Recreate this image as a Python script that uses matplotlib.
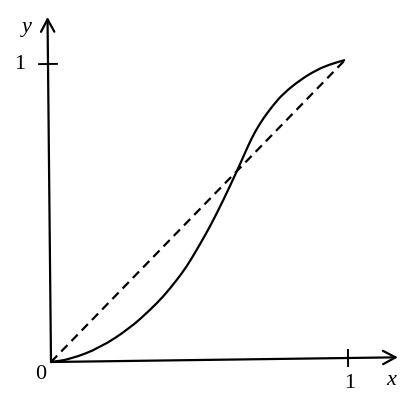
import matplotlib
matplotlib.use("Agg")
import matplotlib.pyplot as plt
from matplotlib.transforms import Affine2D
from matplotlib.path import Path
from matplotlib.patches import PathPatch
import numpy as np

# Curve values (in unit coordinates)
curve_x = [0.0, 0.064, 0.165, 0.267, 0.335, 0.380, 0.426, 0.460, 0.494, 0.540,
           0.586, 0.626, 0.649, 0.672, 0.695, 0.723, 0.757, 0.791, 0.848,
           0.904, 0.949, 1.0]
curve_y = [0.0, 0.008, 0.045, 0.110, 0.170, 0.214, 0.269, 0.314, 0.369, 0.447,
           0.536, 0.619, 0.668, 0.719, 0.764, 0.808, 0.852, 0.890, 0.935,
           0.968, 0.986, 1.0]
diag_x = [0.0, 1.0]
diag_y = [0.0, 1.0]
x_ticks = [1]
y_ticks = [1]
x_tick_labels = ["1"]
y_tick_labels = ["1"]
origin_label = "0"

W, H = 416, 415
fig = plt.figure(figsize=(W / 100, H / 100), dpi=100)
ax = fig.add_axes([0, 0, 1, 1])
ax.set_xlim(0, W)
ax.set_ylim(H, 0)
ax.axis("off")

# slightly skewed coordinate frame of the drawing
T = Affine2D().from_values(297, -4, -3, -298, 51, 362) + ax.transData

serif = ["Liberation Serif", "DejaVu Serif"]
fs = 16
lw = 1.6

# axes arrows
arrow_kw = dict(arrowstyle="->,head_length=0.45,head_width=0.24", lw=lw,
                color="black", shrinkA=0, shrinkB=0, mutation_scale=20)
ax.annotate("", xy=(1.168, 0), xytext=(0, 0), xycoords=T, textcoords=T,
            arrowprops=arrow_kw)
ax.annotate("", xy=(0, 1.158), xytext=(0, 0), xycoords=T, textcoords=T,
            arrowprops=arrow_kw)

# ticks
for t in x_ticks:
    ax.plot([t, t], [-0.027, 0.027], color="black", lw=1.4, transform=T)
for t in y_ticks:
    ax.plot([-0.03, 0.03], [t, t], color="black", lw=1.4, transform=T)

# dashed diagonal
ax.plot(diag_x, diag_y, color="black", lw=lw, linestyle=(0, (4, 2.6)),
        transform=T, solid_capstyle="butt")

# smooth curve through the read points (quadratic segments via midpoints)
P = np.column_stack([curve_x, curve_y])
verts = [P[0], (P[0] + P[1]) / 2]
codes = [Path.MOVETO, Path.LINETO]
for i in range(1, len(P) - 1):
    verts += [P[i], (P[i] + P[i + 1]) / 2]
    codes += [Path.CURVE3, Path.CURVE3]
verts.append(P[-1])
codes.append(Path.LINETO)
ax.add_patch(PathPatch(Path(verts, codes), facecolor="none", edgecolor="black",
                       lw=lw, transform=T, joinstyle="round"))

# labels
for t, lab in zip(x_ticks, x_tick_labels):
    ax.text(t + 0.006, -0.087, lab, transform=T, ha="center", va="center",
            fontsize=fs, family=serif)
for t, lab in zip(y_ticks, y_tick_labels):
    ax.text(-0.094, t, lab, transform=T, ha="center", va="center",
            fontsize=fs, family=serif)
ax.text(-0.034, -0.043, origin_label, transform=T, ha="center", va="center",
        fontsize=fs, family=serif)
ax.text(1.146, -0.076, "x", transform=T, ha="center", va="center",
        fontsize=fs, family=serif, style="italic")
ax.text(-0.069, 1.125, "y", transform=T, ha="center", va="center",
        fontsize=fs, family=serif, style="italic")

fig.savefig("out.png", dpi=100)
